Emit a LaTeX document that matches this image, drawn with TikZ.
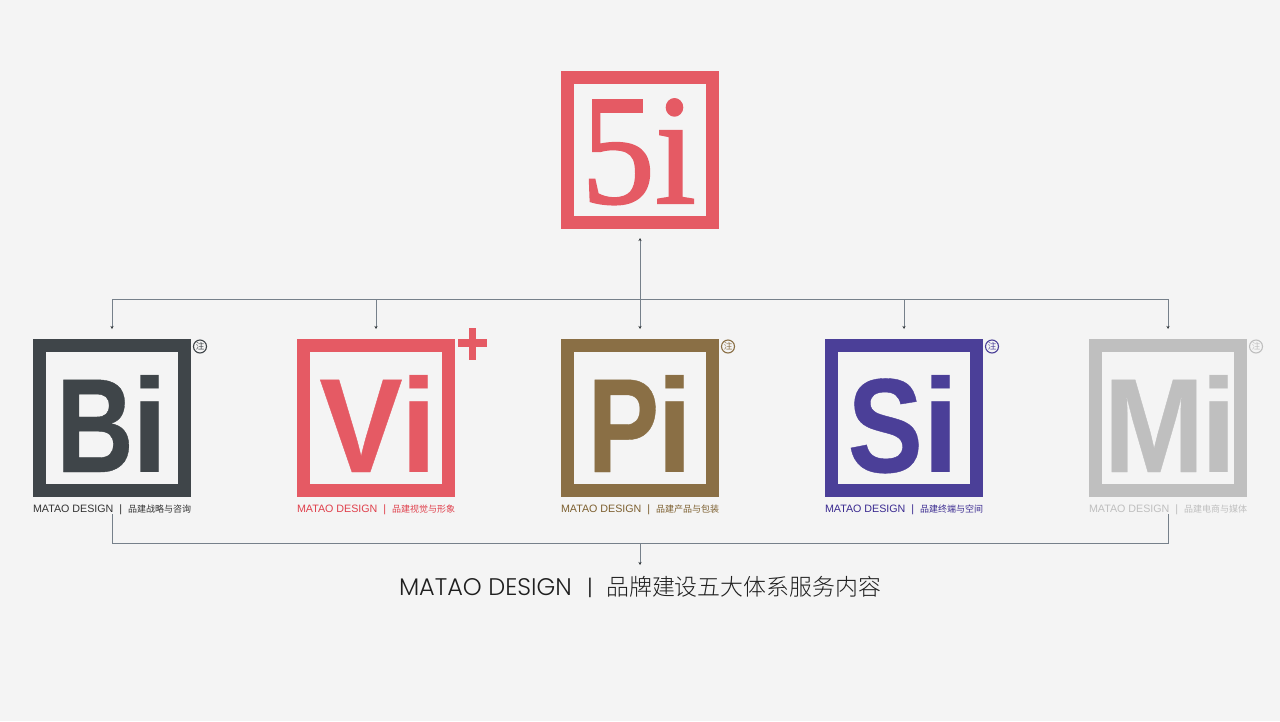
\documentclass[tikz,border=0pt]{standalone}
\usepackage{fontspec}
\setmainfont{Liberation Sans}
\newfontfamily\cjk{Noto Sans CJK SC}
\newfontfamily\cjklight{Noto Sans CJK SC Light}
\newfontfamily\serifbig[FakeBold=1.3]{Liberation Serif}
\newfontfamily\geo{Poppins Light}
\newfontfamily\heavy[FakeBold=.3]{Liberation Sans Bold}
\newfontfamily\plainb{Liberation Sans Bold}
\usetikzlibrary{arrows.meta,calc}
\definecolor{bgc}{HTML}{F4F4F4}
\definecolor{cdark}{HTML}{3F4549}
\definecolor{cred}{HTML}{E55A64}
\definecolor{cbrown}{HTML}{8A6F45}
\definecolor{cblue}{HTML}{4B3F98}
\definecolor{cgrey}{HTML}{BFBFBF}
\definecolor{wire}{HTML}{76808A}
\definecolor{tipc}{HTML}{30363A}
\definecolor{tdark}{HTML}{333333}
\definecolor{tred}{HTML}{E0404C}
\definecolor{tbrown}{HTML}{7D6030}
\definecolor{tblue}{HTML}{3A2A90}
\newcommand{\lbl}[1]{\hbox to 158pt{\fontsize{10.7}{12}\selectfont MATAO DESIGN\hfil|\hfil{\cjk\fontsize{9}{12}\selectfont #1}}}
\newcommand{\duo}[3]{\scalebox{#1}[1]{#2}\kern#3pt{\plainb\fontsize{134}{134}\selectfont i}}
\tikzset{
  frame/.style={draw=#1,line width=13pt,minimum size=145pt,inner sep=0pt,rectangle},
  glyph/.style={text=#1,anchor=base west,inner sep=0pt,font=\heavy\fontsize{134}{134}\selectfont},
  tag/.style={text=#1,anchor=north west,inner sep=0pt,outer sep=0pt},
  badge/.style={circle,draw=#1,line width=1.1pt,text=#1,minimum size=13pt,inner sep=0pt,font=\cjk\fontsize{8.5}{9}\selectfont},
  wireline/.style={draw=wire,line width=1pt},
  tipline/.style={draw=wire,line width=1pt,-{Stealth[length=3pt,width=3pt,color=tipc]}}
}
\begin{document}
\begin{tikzpicture}[x=1pt,y=-1pt]
\useasboundingbox (0,0) rectangle (1280,721);
\fill[bgc] (0,0) rectangle (1280,721);
% top
\node[frame=cred] (top) at (640,150) {};
\node[text=cred,anchor=base west,inner sep=0pt,font=\serifbig\fontsize{157}{157}\selectfont] (topt) at (581,203) {\scalebox{.94}[1]{5i}};
% frames
\node[frame=cdark] (bi) at (112,418) {};
\node[frame=cred] (vi) at (376,418) {};
\node[frame=cbrown] (pi) at (640,418) {};
\node[frame=cblue] (si) at (904,418) {};
\node[frame=cgrey] (mi) at (1168,418) {};
% letters
\node[glyph=cdark] (bit) at (56.1,472) {\duo{.8}{B}{-2.6}};
\node[glyph=cred] (vit) at (319.2,472) {\duo{.93}{V}{-2}};
\node[glyph=cbrown] (pit) at (587.4,472) {\duo{.8}{P}{-3}};
\node[glyph=cblue] (sit) at (847.5,472) {\duo{.84}{S}{0}};
\node[glyph=cgrey] (mit) at (1103.6,472) {\duo{.9}{M}{-3.5}};
% badges
\node[badge=cdark] (bib) at (200,346.5) {注};
\node[badge=cbrown] (pib) at (728,346.5) {注};
\node[badge=cblue] (sib) at (992,346.5) {注};
\node[badge=cgrey] (mib) at (1256,346.5) {注};
\fill[cred] (458,339) rectangle (487,347);
\fill[cred] (469,328) rectangle (476,360);
% labels
\node[tag=tdark] (bil) at (33,505) {\lbl{品建战略与咨询}};
\node[tag=tred] (vil) at (297,505) {\lbl{品建视觉与形象}};
\node[tag=tbrown] (pil) at (561,505) {\lbl{品建产品与包装}};
\node[tag=tblue] (sil) at (825,505) {\lbl{品建终端与空间}};
\node[tag=cgrey] (mil) at (1089,505) {\lbl{品建电商与媒体}};
% title
\node[text=black!88,inner sep=0pt,anchor=base] (title) at (640,595) {\hbox to 482pt{{\geo\fontsize{24}{26}\selectfont MATAO DESIGN}\hfil\kern2pt{\geo\fontsize{22}{26}\selectfont|}\hfil{\cjklight\fontsize{22.9}{26}\selectfont 品牌建设五大体系服务内容}}};
% connectors
\coordinate (bus) at (640,299);
\coordinate (busbi) at (bi.north |- bus);
\coordinate (busvi) at (vi.north |- bus);
\coordinate (bussi) at (si.north |- bus);
\coordinate (busmi) at (mi.north |- bus);
\draw[wireline] (busbi) -- (busmi);
\draw[tipline,shorten >=10pt] (busbi) -- (bi.north);
\draw[tipline,shorten >=10pt] (busvi) -- (vi.north);
\draw[tipline,shorten >=10pt] (bussi) -- (si.north);
\draw[tipline,shorten >=10pt] (busmi) -- (mi.north);
\draw[tipline,shorten >=10pt] (bus) -- (pi.north);
\draw[tipline,shorten >=9pt] (bus) -- (top.south);
\coordinate (low) at (640,543);
\draw[wireline,shorten <=17pt,shorten >=17pt] (bi.south) |- (low) -| (mi.south);
\coordinate (titletop) at (640,565);
\draw[tipline] (low) -- (titletop);
\end{tikzpicture}
\end{document}
